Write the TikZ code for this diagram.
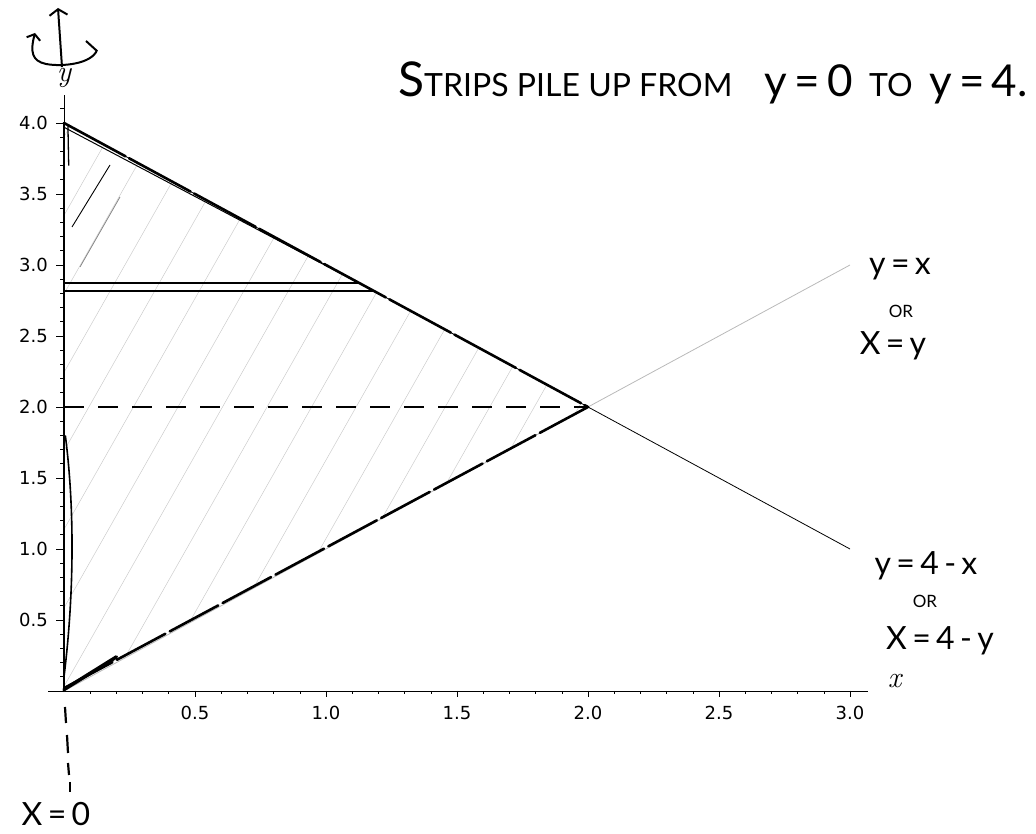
\documentclass[tikz,border=0pt]{standalone}
\usepackage{fontspec}
\newfontfamily\handfont{Lato}
\newfontfamily\tickfont{DejaVu Sans}
\usetikzlibrary{arrows.meta}
\newcommand{\handsz}[1]{\fontsize{#1}{#1}\selectfont}

\begin{document}
\begin{tikzpicture}[
  x=262pt, y=142pt,
  axisline/.style={line width=0.6pt},
  plotline/.style={line width=0.8pt},
  ink/.style={line width=2.6pt, line cap=round},
  hatch/.style={line width=0.5pt, gray!40},
  ticklabel/.style={font=\tickfont\handsz{18}, inner sep=0pt},
  axislabel/.style={font=\itshape\handsz{30}, inner sep=0pt},
  hand/.style={font=\handfont\handsz{32}, inner sep=0pt, anchor=base},
  handsmall/.style={font=\handfont\handsz{17}, inner sep=0pt, anchor=base},
  px/.style={x=1pt, y=-1pt, shift={(-64,-691)}}
]
\useasboundingbox (-64pt,-143pt) rectangle (972pt,691pt);

% pencil shading inside the region
\begin{scope}
  \clip (0,0) -- (0,4) -- (2,2) -- cycle;
  \foreach \s in {-1.2,-1.03,...,2.2}
    \draw[hatch] (\s,0) -- ++(1.23,4);
\end{scope}

% axes and ticks
\draw[axisline] (-0.06,0) -- (3.07,0);
\draw[axisline] (0,0) -- (0,4.2);
\foreach \t in {1,...,30}
  \draw[axisline] (\t/10,0) -- ++(0,-3pt);
\foreach \t in {1,...,41}
  \draw[axisline] (0,\t/10) -- ++(-4pt,0);
\foreach \t/\l [count=\i] in {0.5/0.5,1/1.0,1.5/1.5,2/2.0,2.5/2.5,3/3.0} {
  \draw[axisline] (\t,0) -- ++(0,-6pt);
  \node[ticklabel, anchor=north] (xtick\i) at ([yshift=-15pt]\t,0) {\l};
}
\foreach \t/\l [count=\i] in {0.5/0.5,1/1.0,1.5/1.5,2/2.0,2.5/2.5,3/3.0,3.5/3.5,4/4.0} {
  \draw[axisline] (0,\t) -- ++(-8pt,0);
  \node[ticklabel, anchor=east] (ytick\i) at ([xshift=-16pt]0,\t) {\l};
}
\node[axislabel] (ylab) at (0,4.32) {y};
\node[axislabel] (xlab) at (3.17,0.07) {x};

% plotted lines
\draw[plotline, gray!55] (0,0) -- (3,3);
\draw[plotline] (0,4) -- (3,1);

% hand-drawn edges of the region
\draw[ink, dash pattern=on 70pt off 4pt] (0,4) -- (2,2);
\draw[line width=1pt] (0,3.97) -- (1.2,2.8);
\draw[ink, dash pattern=on 55pt off 5pt] (0,0.02) -- (2,2);
\draw[ink, line width=3.5pt] (0,0.01) -- (0.2,0.24);
\draw[ink, line width=2.4pt] (0,0) -- (0,4);
\draw[line width=1.6pt] (0,0.1) .. controls (0.04,0.7) and (0.04,1.3) .. (0.005,1.8);
\draw[line width=1.3pt] (0.015,3.98) -- (0.018,3.7);
\draw[ink, line width=2.6pt, line cap=butt, dash pattern=on 20pt off 14pt] (0,2) -- (2,2);

% the strip
\draw[line width=2pt] (0,2.87) -- (1.13,2.87);
\draw[line width=2pt] (0,2.82) -- (1.18,2.82);

\begin{scope}[px]
  \draw[line width=0.9pt] (72,227) -- (110,165);
  \draw[line width=0.7pt, gray] (80,267) -- (120,197);
  % turning about the y-axis
  \draw[line width=2pt, -{Straight Barb[length=6pt,width=18pt]}] (62,67) -- (58,8);
  \draw[line width=2pt, -{Straight Barb[length=5pt,width=14pt]}] (97,50) .. controls (92,64) and (62,67) .. (46,64) .. controls (32,61) and (30,52) .. (35,33);
  \draw[line width=2pt] (86,41) -- (97,51);
  % x = 0 below the origin
  \draw[line width=2.2pt] (65,707) -- (66,723);
  \draw[line width=2.2pt] (67,735) -- (68,753);
  \draw[line width=2.2pt] (68,763) -- (69,775);
  \draw[line width=2.2pt] (70,782) -- (70,792);
  \node[hand] (xzero) at (56,826) {X\,=\,0};
  % labels
  \node[hand, anchor=base east] (strips) at (1028,97)
    {{\handsz{48}S}TRIPS PILE UP FROM\quad{\handsz{44}y\,=\,0}\ \ TO\ \ {\handsz{44}y\,=\,4.}};
  \node[hand] (lineA) at (900,275) {y\,=\,x};
  \node[handsmall] (orA) at (901,318) {OR};
  \node[hand] (lineAx) at (893,355) {X\,=\,y};
  \node[hand] (lineB) at (926,575) {y\,=\,4\,-\,x};
  \node[handsmall] (orB) at (925,608) {OR};
  \node[hand] (lineBx) at (940,650) {X\,=\,4\,-\,y};
\end{scope}
\end{tikzpicture}
\end{document}
